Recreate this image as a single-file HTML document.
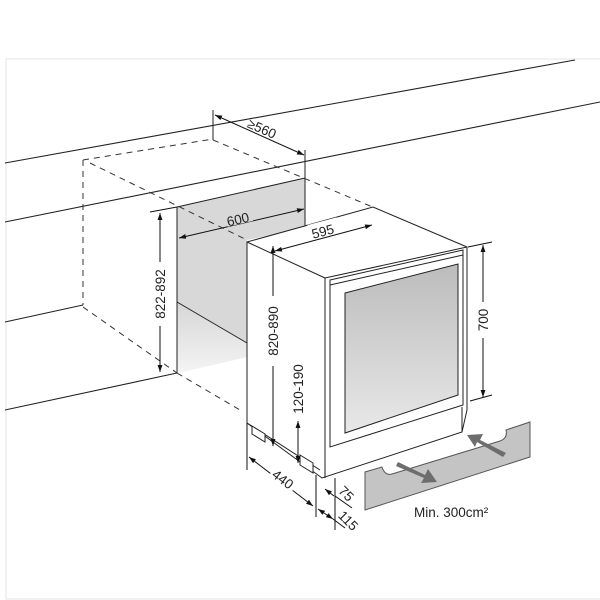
<!DOCTYPE html>
<html><head><meta charset="utf-8"><style>
html,body{margin:0;padding:0;background:#fff;}
svg{display:block;}
text{font-family:"Liberation Sans",sans-serif;fill:#222;}
</style></head><body>
<svg width="600" height="600" viewBox="0 0 600 600" xmlns="http://www.w3.org/2000/svg">
<defs>
<marker id="a" viewBox="0 0 10 10" refX="10" refY="5" markerWidth="7" markerHeight="7" orient="auto-start-reverse"><path d="M0,1.5 L10,5 L0,8.5z" fill="#111"/></marker>
<linearGradient id="g1" x1="0" y1="0" x2="0" y2="1"><stop offset="0" stop-color="#d6d6d6"/><stop offset="1" stop-color="#f4f4f4"/></linearGradient>
<linearGradient id="g2" x1="0" y1="0" x2="0" y2="1"><stop offset="0" stop-color="#bcbcbc"/><stop offset="1" stop-color="#e8e8e8"/></linearGradient>
</defs>
<rect x="6" y="59" width="600" height="540" fill="none" stroke="#e6e6e6"/>
<g stroke="#222" fill="none" stroke-width="1.1">
<line x1="5" y1="163" x2="575" y2="60"/>
<line x1="5" y1="222" x2="600" y2="102"/>
<line x1="5" y1="322" x2="83" y2="305"/>
<line x1="5" y1="410" x2="177" y2="373"/>
</g>
<polygon points="177,207 305,178 305,228 247,240 247,357 177,373" fill="#d8d8d8"/>
<polygon points="177,302 247,343 247,357 177,373" fill="url(#g1)"/>
<g stroke="#222" fill="none" stroke-width="1">
<line x1="177" y1="302" x2="247" y2="343"/>
<line x1="177" y1="207" x2="177" y2="373"/>
<line x1="177" y1="207" x2="305" y2="178"/>
<line x1="305" y1="150" x2="305" y2="228"/>
<line x1="213" y1="110" x2="213" y2="140"/>
</g>
<g stroke="#333" fill="none" stroke-width="1" stroke-dasharray="6,5">
<line x1="83" y1="160" x2="83" y2="305"/>
<line x1="83" y1="160" x2="213" y2="139"/>
<line x1="213" y1="140" x2="375" y2="208"/>
<line x1="90" y1="163" x2="247" y2="240"/>
<line x1="83" y1="307" x2="177" y2="373"/>
<line x1="177" y1="373" x2="240" y2="410"/>
</g>
<g stroke="#111" stroke-width="1" fill="none">
<line x1="215" y1="115" x2="304" y2="155" marker-start="url(#a)" marker-end="url(#a)"/>
<line x1="179" y1="238" x2="304" y2="209" marker-start="url(#a)" marker-end="url(#a)"/>
<line x1="150" y1="212" x2="177" y2="207"/>
<line x1="160" y1="213" x2="160" y2="372" marker-start="url(#a)" marker-end="url(#a)"/>
</g>
<rect x="152" y="262" width="16" height="64" fill="#fff"/>
<text transform="translate(165,294) rotate(-90)" font-size="13.5" text-anchor="middle">822-892</text>
<rect x="226" y="211" width="26" height="13" fill="#d8d8d8" transform="rotate(-13 239 218)"/>
<text transform="translate(239,224) rotate(-13)" font-size="13.5" text-anchor="middle">600</text>
<text transform="translate(260,133) rotate(24)" font-size="13.5" text-anchor="middle">≥560</text>
<polygon points="247,242 373,207 467,247 467,410 462,432 322,478 247,423" fill="#fff" stroke="#222" stroke-width="1"/>
<g stroke="#222" fill="none" stroke-width="1">
<line x1="247" y1="242" x2="325" y2="278"/>
<polyline points="325,278 467,247"/>
<line x1="325" y1="278" x2="325" y2="478"/>
<polygon points="330,280 463,250 463,405 330,447" fill="#fff"/>
<line x1="330" y1="285" x2="463" y2="255"/>
<line x1="247" y1="423" x2="320" y2="470"/>
<line x1="462" y1="407" x2="462" y2="432"/>
</g>
<polygon points="345,293 458,264 458,395 345,433" fill="url(#g2)" stroke="#222" stroke-width="1"/>
<g stroke="#222" fill="#fff" stroke-width="1">
<polygon points="252,426 265,434 265,442 252,434"/>
<polygon points="300,455 313,463 313,473 300,465"/>
</g>
<g stroke="#111" stroke-width="1" fill="none">
<line x1="275" y1="251" x2="372" y2="225" marker-start="url(#a)" marker-end="url(#a)"/>
<line x1="483" y1="245" x2="483" y2="397" marker-start="url(#a)" marker-end="url(#a)"/>
<line x1="468" y1="247" x2="492" y2="242"/>
<line x1="470" y1="401" x2="492" y2="395"/>
<line x1="273" y1="246" x2="273" y2="446" marker-start="url(#a)" marker-end="url(#a)"/>
<line x1="298" y1="421" x2="298" y2="463" marker-start="url(#a)" marker-end="url(#a)"/>
<line x1="247" y1="423" x2="247" y2="470"/>
<line x1="316" y1="475" x2="316" y2="517"/>
<line x1="335" y1="478" x2="335" y2="530"/>
<line x1="249" y1="457" x2="313" y2="506" marker-start="url(#a)" marker-end="url(#a)"/>
<line x1="325" y1="489" x2="334" y2="496" marker-start="url(#a)"/>
<line x1="335" y1="496" x2="352" y2="508"/>
<line x1="318" y1="509" x2="333" y2="519" marker-start="url(#a)" marker-end="url(#a)"/>
<line x1="333" y1="519" x2="345" y2="528"/>
</g>
<rect x="309" y="221" width="30" height="14" fill="#fff" transform="rotate(-15 324 229)"/>
<text transform="translate(324,236) rotate(-15)" font-size="13.5" text-anchor="middle">595</text>
<rect x="475" y="302" width="16" height="36" fill="#fff"/>
<text transform="translate(488,320) rotate(-90)" font-size="13.5" text-anchor="middle">700</text>
<rect x="265" y="296" width="16" height="70" fill="#fff"/>
<text transform="translate(278,331) rotate(-90)" font-size="13.5" text-anchor="middle">820-890</text>
<text transform="translate(303,389) rotate(-90)" font-size="13.5" text-anchor="middle">120-190</text>
<rect x="269" y="473" width="28" height="14" fill="#fff" transform="rotate(37 283 480)"/>
<text transform="translate(280,483) rotate(37)" font-size="13.5" text-anchor="middle">440</text>
<text transform="translate(343,497) rotate(45)" font-size="13.5" text-anchor="middle">75</text>
<text transform="translate(345,524) rotate(45)" font-size="13.5" text-anchor="middle">115</text>
<path d="M365,472 L382,467 Q385,476 392,474 L500,441 Q508,438 506,430 L530,422 L530,457 L365,510 Z" fill="#c4c4c4" stroke="#555" stroke-width="1"/>
<polygon points="398,462 425,475 428,469 437,482 421,483 424,478 396,466" fill="#6d6d6d"/>
<polygon points="506,453 480,440 483,434 467,435 475,447 477,442 503,457" fill="#6d6d6d"/>
<text x="414" y="517" font-size="13.5">Min. 300cm²</text>
</svg>
</body></html>
